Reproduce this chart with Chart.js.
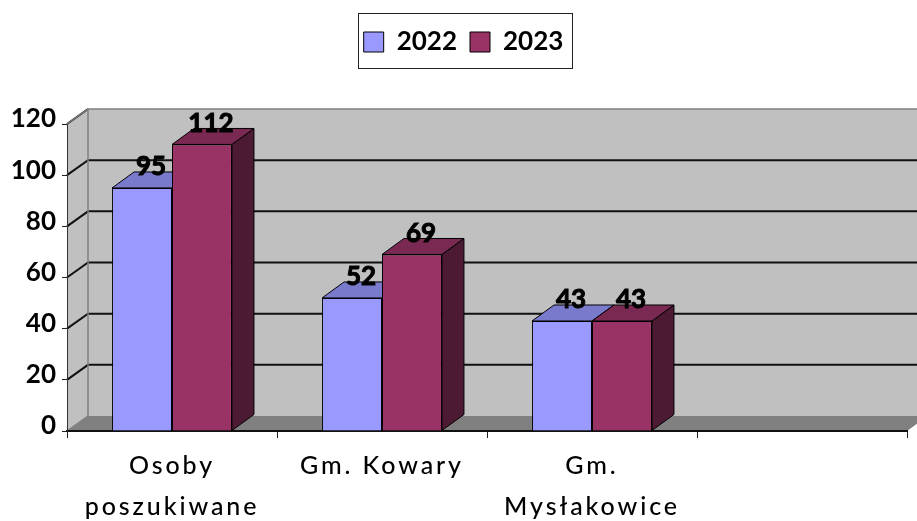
<!DOCTYPE html>
<html>
<head>
<meta charset="utf-8">
<style>html,body{margin:0;padding:0;background:#fff;overflow:hidden}canvas{display:block}</style>
<script src="https://cdn.jsdelivr.net/npm/chart.js@4"></script>
</head>
<body>
<canvas id="c" width="917" height="521"></canvas>
<script>
const categories = [['Osoby','poszukiwane'], 'Gm. Kowary', ['Gm.','Mysłakowice'], ''];
const series2022 = [95, 52, 43, null];
const series2023 = [112, 69, 43, null];
const yTicks = [0, 20, 40, 60, 80, 100, 120];

const FONT = 'Lato, "Open Sans", sans-serif';
const wall = {dx: 21, dy: -15};
const barDepth = {dx: 22, dy: -16};
const tops = ['#7a7acc', '#7a2952'];
const sides = ['#4c4c80', '#4d1a33'];

function poly(ctx, pts, fill, stroke, lw) {
  ctx.beginPath();
  pts.forEach((p, i) => i ? ctx.lineTo(p[0], p[1]) : ctx.moveTo(p[0], p[1]));
  ctx.closePath();
  if (fill) { ctx.fillStyle = fill; ctx.fill(); }
  if (stroke) { ctx.strokeStyle = stroke; ctx.lineWidth = lw || 1; ctx.stroke(); }
}

const threeD = {
  id: 'threeD',
  afterLayout(chart) {
    const lg = chart.legend;
    lg.top = 16; lg.bottom = 72; lg.left += 10; lg.right += 10;
    const x = chart.scales.x, y = chart.scales.y;
    if (!x._wrapped) {
      x._wrapped = true;
      const ox = x.drawLabels.bind(x);
      x.drawLabels = function (a) { chart.ctx.letterSpacing = '2.9px'; ox(a); chart.ctx.letterSpacing = '0px'; };
      const oy = y.drawLabels.bind(y);
      y.drawLabels = function (a) { chart.ctx.save(); chart.ctx.translate(0, -5); oy(a); chart.ctx.restore(); };
    }
  },
  beforeDraw(chart) {
    const ctx = chart.ctx, a = chart.chartArea, y = chart.scales.y;
    const L = a.left, R = a.right, B = a.bottom, T = a.top;
    const bx = L + wall.dx, far = R + wall.dx;
    ctx.save();
    poly(ctx, [[bx, T + wall.dy], [far, T + wall.dy], [far, B + wall.dy], [bx, B + wall.dy]], '#c0c0c0');
    poly(ctx, [[L, T], [bx, T + wall.dy], [bx, B + wall.dy], [L, B]], '#c0c0c0');
    poly(ctx, [[L, B], [bx, B + wall.dy], [far, B + wall.dy], [R, B]], '#808080');
    ctx.strokeStyle = '#111'; ctx.lineWidth = 2;
    yTicks.forEach(v => {
      if (v === 0) return;
      const py = y.getPixelForValue(v);
      ctx.beginPath();
      ctx.moveTo(L, py);
      ctx.lineTo(bx, py + wall.dy);
      if (v !== 120) ctx.lineTo(far, py + wall.dy);
      ctx.stroke();
    });
    ctx.strokeStyle = '#808080'; ctx.lineWidth = 1.5;
    ctx.beginPath();
    ctx.moveTo(far, T + wall.dy); ctx.lineTo(bx, T + wall.dy); ctx.lineTo(bx, B + wall.dy); ctx.lineTo(L, B);
    ctx.moveTo(L, T); ctx.lineTo(bx, T + wall.dy);
    ctx.stroke();
    ctx.restore();
    // legend frame
    ctx.save();
    ctx.strokeStyle = '#222'; ctx.lineWidth = 1;
    ctx.strokeRect(358.5, 13.5, 214, 55);
    ctx.restore();
  },
  beforeDatasetsDraw(chart) {
    const ctx = chart.ctx;
    ctx.save();
    ctx.lineJoin = 'miter';
    chart.data.datasets.forEach((ds, i) => {
      chart.getDatasetMeta(i).data.forEach((el, j) => {
        if (ds.data[j] == null) return;
        const l = el.x - el.width / 2, r = el.x + el.width / 2, t = el.y, b = el.base;
        const d = barDepth;
        poly(ctx, [[r, t], [r + d.dx, t + d.dy], [r + d.dx, b + d.dy], [r, b]], sides[i], '#000', 1);
        poly(ctx, [[l, t], [l + d.dx, t + d.dy], [r + d.dx, t + d.dy], [r, t]], tops[i], '#000', 1);
      });
    });
    ctx.restore();
  },
  afterDatasetsDraw(chart) {
    const ctx = chart.ctx;
    ctx.save();
    ctx.fillStyle = '#000';
    ctx.strokeStyle = '#000';
    ctx.lineWidth = 1;
    ctx.font = 'bold 26px ' + FONT;
    ctx.textAlign = 'center';
    ctx.textBaseline = 'middle';
    chart.data.datasets.forEach((ds, i) => {
      chart.getDatasetMeta(i).data.forEach((el, j) => {
        if (ds.data[j] == null) return;
        ctx.fillText(String(ds.data[j]), el.x + 9, el.y - 21);
        ctx.strokeText(String(ds.data[j]), el.x + 9, el.y - 21);
      });
    });
    ctx.restore();
  }
};

new Chart(document.getElementById('c'), {
  type: 'bar',
  data: {
    labels: categories,
    datasets: [
      {label: '2022', data: series2022, backgroundColor: '#9999ff', borderColor: '#000', borderWidth: 1},
      {label: '2023', data: series2023, backgroundColor: '#993366', borderColor: '#000', borderWidth: 1}
    ]
  },
  plugins: [threeD],
  options: {
    responsive: false,
    animation: false,
    devicePixelRatio: 1,
    layout: {padding: {top: 75, right: 10, left: 0, bottom: 0}},
    datasets: {bar: {barPercentage: 1, categoryPercentage: 0.571}},
    plugins: {
      tooltip: {enabled: false},
      legend: {
        position: 'top',
        labels: {boxWidth: 20, boxHeight: 20, padding: 13, color: '#000', font: {family: FONT, size: 26, weight: 'bold'}}
      }
    },
    scales: {
      x: {
        afterFit(s) { s.height = 90; },
        border: {color: '#111', width: 2},
        grid: {drawOnChartArea: false, tickLength: 7, color: '#222', tickWidth: 1},
        ticks: {autoSkip: false, maxRotation: 0, minRotation: 0, padding: 7, color: '#000',
                font: {family: FONT, size: 25, weight: 500, lineHeight: 1.66}}
      },
      y: {
        min: 0, max: 120,
        afterFit(s) { s.width = 67; },
        border: {color: '#333', width: 1},
        grid: {drawOnChartArea: false, tickLength: 5, color: '#222', tickWidth: 1},
        ticks: {stepSize: 20, padding: 6, color: '#000', font: {family: FONT, size: 26, weight: 'bold'}}
      }
    }
  }
});
</script>
</body>
</html>
